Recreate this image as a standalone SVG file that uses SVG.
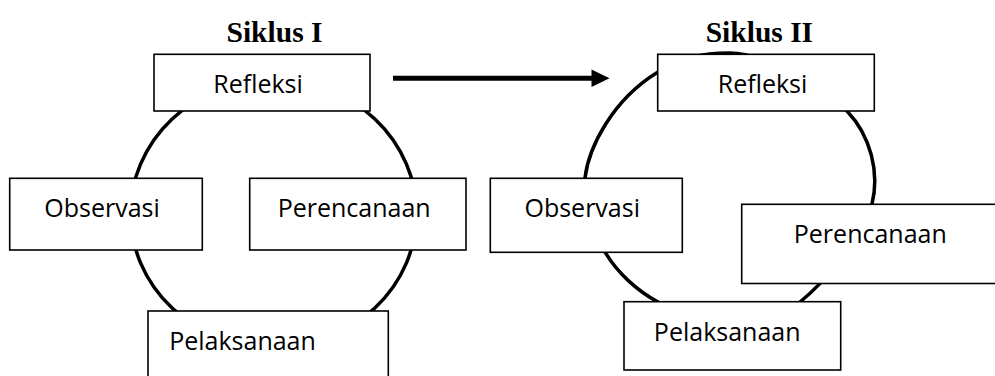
<svg xmlns="http://www.w3.org/2000/svg" width="995" height="376" viewBox="0 0 995 376">
<style>
.box{fill:#fff;stroke:#000;stroke-width:1.6}
.lbl{font-family:"Open Sans","Liberation Sans",sans-serif;font-size:25px;fill:#000;text-anchor:middle}
.title{font-family:"Liberation Serif",serif;font-weight:bold;font-size:29.5px;fill:#000;text-anchor:middle}
.cyc{fill:none;stroke:#000;stroke-width:3.5}
</style>
<rect width="995" height="376" fill="#fff"/>
<g id="connectors">
<ellipse class="cyc" cx="273.5" cy="213.5" rx="143" ry="134"/>
<path class="cyc" d="M730,53 C761.7,53 823.3,86 847,111 C870.7,136 879.8,172.2 872,204 C864.2,235.8 823.8,283 800,302 C776.2,321 752.7,318 729,318 C705.3,318 678.7,313 658,302 C637.3,291 617.2,272.7 605,252 C592.8,231.3 581.5,208 585,178 C588.5,148 612,100 658,72 C682,58 700,53 730,53 Z"/>
<line x1="393" y1="78.3" x2="594" y2="78.3" stroke="#000" stroke-width="5"/>
<polygon points="591.5,69.5 609.5,78.3 591.5,87" fill="#000"/>
</g>
<g id="title1"><text class="title" x="274.5" y="41.5">Siklus I</text></g>
<g id="title2"><text class="title" x="759.4" y="41.5">Siklus II</text></g>
<g id="refleksi1"><rect class="box" x="154" y="54.3" width="216" height="56.7"/><text class="lbl" x="258" y="93.2">Refleksi</text></g>
<g id="observasi1"><rect class="box" x="9.7" y="178.3" width="192.6" height="71.7"/><text class="lbl" x="102" y="217.2">Observasi</text></g>
<g id="perencanaan1"><rect class="box" x="249.7" y="178.3" width="216.3" height="71.7"/><text class="lbl" x="354.2" y="217.2">Perencanaan</text></g>
<g id="pelaksanaan1"><rect class="box" x="148" y="311" width="240.3" height="80"/><text class="lbl" x="242.5" y="350">Pelaksanaan</text></g>
<g id="refleksi2"><rect class="box" x="657.7" y="54.3" width="216.6" height="56.7"/><text class="lbl" x="762.5" y="92.8">Refleksi</text></g>
<g id="observasi2"><rect class="box" x="490.3" y="178.3" width="192" height="74"/><text class="lbl" x="582.2" y="216.7">Observasi</text></g>
<g id="perencanaan2"><rect class="box" x="741.7" y="204.3" width="270" height="79.2"/><text class="lbl" x="870.3" y="242.6">Perencanaan</text></g>
<g id="pelaksanaan2"><rect class="box" x="624" y="301.7" width="216.7" height="68.3"/><text class="lbl" x="727.2" y="340.6">Pelaksanaan</text></g>
</svg>
